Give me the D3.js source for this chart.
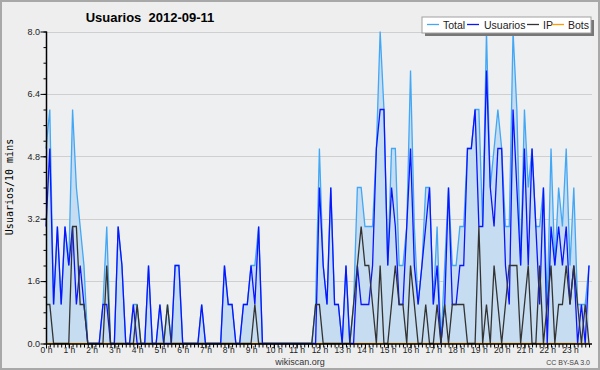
<!DOCTYPE html>
<html>
<head>
<meta charset="utf-8">
<script src="https://cdnjs.cloudflare.com/ajax/libs/d3/7.8.5/d3.min.js"></script>
<style>
html, body { margin: 0; padding: 0; background: #eeeeee; }
svg { display: block; }
</style>
</head>
<body>
<svg id="chart" width="600" height="370"></svg>
<script>
// values per 10 minutes, 00:00 .. 23:50
var usuarios = [3,5,1,3,1,3,2,3,1,2, 1,0,0,0,0,1,1,0,0,3, 2,0,0,1,0,0,0,2,0,0,
                1,0,0,0,2,2,0,0,0,0, 0,1,0,0,0,0,0,2,1,1, 0,0,1,1,2,1,3,0,0,0,
                0,0,0,0,0,0,0,0,0,0, 0,0,4,2,1,4,1,1,0,2, 0,0,2,1,1,1,2,5,6,6,
                2,4,3,1,1,3,5,2,1,2, 3,4,1,2,0,1,4,1,1,2, 2,5,5,6,3,3,7,4,3,5,
                5,2,1,6,4,2,5,2,5,3, 1,4,0,3,2,3,2,3,1,2, 0,1,0,2];
var ip       = [1,1,0,0,0,0,0,3,3,1, 1,0,0,0,0,0,2,0,0,0, 0,0,0,0,1,0,0,0,0,0,
                0,0,1,0,0,0,0,0,0,0, 0,0,0,0,0,0,0,0,0,0, 0,0,0,0,0,1,0,0,0,0,
                0,0,0,0,0,0,0,0,0,0, 0,1,1,0,0,0,0,0,0,0, 0,1,2,3,2,2,1,0,2,0,
                0,1,2,1,1,0,2,1,0,0, 1,0,0,1,0,1,0,1,1,1, 1,0,0,0,3,0,1,0,2,1,
                0,1,2,2,2,0,1,2,0,0, 2,0,1,2,0,1,1,2,1,2, 1,0,1,0];
var total    = [5,6,1,3,1,3,2,6,4,3, 2,0,0,0,0,1,3,0,0,3, 2,0,0,1,1,0,0,2,0,0,
                1,0,1,0,2,2,0,0,0,0, 0,1,0,0,0,0,0,2,1,1, 0,0,1,1,2,2,3,0,0,0,
                0,0,0,0,0,0,0,0,0,0, 0,1,5,2,1,4,1,1,0,2, 0,1,4,4,3,3,3,5,8,6,
                2,5,5,2,2,3,7,3,1,2, 4,4,1,3,0,2,4,2,2,3, 3,5,5,6,6,3,8,4,5,6,
                5,3,3,8,6,2,6,4,5,3, 3,4,1,5,2,4,3,5,2,4, 1,1,1,2];
var bots     = [0,0,0,0,0,0,0,0,0,0, 0,0,0,0,0,0,0,0,0,0, 0,0,0,0,0,0,0,0,0,0,
                0,0,0,0,0,0,0,0,0,0, 0,0,0,0,0,0,0,0,0,0, 0,0,0,0,0,0,0,0,0,0,
                0,0,0,0,0,0,0,0,0,0, 0,0,0,0,0,0,0,0,0,0, 0,0,0,0,0,0,0,0,0,0,
                0,0,0,0,0,0,0,0,0,0, 0,0,0,0,0,0,0,0,0,0, 0,0,0,0,0,0,0,0,0,0,
                0,0,0,0,0,0,0,0,0,0, 0,0,0,0,0,0,0,0,0,0, 0,0,0,0];
var hourLabels = ["0 h","1 h","2 h","3 h","4 h","5 h","6 h","7 h","8 h","9 h","10 h","11 h",
                  "12 h","13 h","14 h","15 h","16 h","17 h","18 h","19 h","20 h","21 h","22 h","23 h"];
var yTicks = [0, 1.6, 3.2, 4.8, 6.4, 8.0];
var seriesNames = ["Total", "Usuarios", "IP", "Bots"];
var seriesColors = ["#42a7f5", "#0a14ff", "#333333", "#ff9c00"];

var svg = d3.select("#chart");
var font = "'Liberation Sans', Arial, sans-serif";

var x = d3.scaleLinear().domain([0, total.length - 1]).range([46, 589]);
var y = d3.scaleLinear().domain([0, 8]).range([343.5, 31.5]);

// frame
svg.append("rect")
    .attr("x", 1).attr("y", 1).attr("width", 598).attr("height", 368)
    .attr("fill", "#eeeeee").attr("stroke", "#a8a8a8").attr("stroke-width", 2);

svg.append("rect")
    .attr("x", 46).attr("y", 31.5).attr("width", 546).attr("height", 312)
    .attr("fill", "#eeeff1");

// grid
svg.append("g").selectAll("line")
    .data(yTicks.filter(d => d > 0))
    .join("line")
    .attr("x1", 46).attr("x2", 592)
    .attr("y1", d => Math.round(y(d)) + 0.5).attr("y2", d => Math.round(y(d)) + 0.5)
    .attr("stroke", "#cfcfcf").attr("stroke-width", 1);

var idx = d3.range(total.length);

svg.append("path")
    .datum(idx)
    .attr("d", d3.area().x(i => x(i)).y0(y(0)).y1(i => y(total[i])))
    .attr("fill", "#c6dcf0");

function drawLine(values, color) {
    svg.append("path")
        .datum(idx)
        .attr("d", d3.line().x(i => x(i)).y(i => y(values[i])))
        .attr("fill", "none")
        .attr("stroke", color)
        .attr("stroke-width", 1.3)
        .attr("stroke-linejoin", "miter");
}
drawLine(bots, seriesColors[3]);
drawLine(total, seriesColors[0]);
drawLine(usuarios, seriesColors[1]);
drawLine(ip, seriesColors[2]);

// y axis
var yAxis = d3.axisLeft(y)
    .tickValues(d3.range(0, 8.01, 0.4))
    .tickSize(3)
    .tickFormat("");
var gy = svg.append("g").attr("transform", "translate(46.5,0)").call(yAxis);
gy.select(".domain").attr("stroke", "#000").attr("stroke-width", 1.5).attr("d", "M0," + y(8) + "V" + y(0));
gy.selectAll(".tick line").attr("stroke", "#000");

var gyMajor = svg.append("g").attr("transform", "translate(46.5,0)")
    .call(d3.axisLeft(y).tickValues(yTicks).tickSize(6).tickFormat(d3.format(".1f")));
gyMajor.select(".domain").remove();
gyMajor.selectAll(".tick line").attr("stroke", "#000");
gyMajor.selectAll(".tick text")
    .attr("x", -6.5).attr("dy", "0.32em")
    .attr("fill", "#222").style("font-family", font).style("font-size", "9px");

// x axis
var gx = svg.append("g").attr("transform", "translate(0,344)")
    .call(d3.axisBottom(x).tickValues(idx).tickSize(3.5).tickFormat(""));
gx.select(".domain").attr("stroke", "#000").attr("stroke-width", 1.5).attr("d", "M46,0H592");
gx.selectAll(".tick line").attr("stroke", "#000");

var gxMajor = svg.append("g").attr("transform", "translate(0,344)")
    .call(d3.axisBottom(x)
        .tickValues(hourLabels.map((d, h) => h * 6))
        .tickSize(4.5)
        .tickFormat((d, h) => hourLabels[h]));
gxMajor.select(".domain").remove();
gxMajor.selectAll(".tick line").attr("stroke", "#000");
gxMajor.selectAll(".tick text")
    .attr("y", 3).attr("dy", "0.71em")
    .attr("fill", "#222").style("font-family", font).style("font-size", "8.5px");

// titles
svg.append("text")
    .attr("x", 150).attr("y", 21.5)
    .attr("text-anchor", "middle")
    .style("font-family", font).style("font-weight", "bold").style("font-size", "13px")
    .style("white-space", "pre")
    .text("Usuarios  2012-09-11");

svg.append("text")
    .attr("transform", "translate(13,187) rotate(-90)")
    .attr("text-anchor", "middle")
    .style("font-family", "'DejaVu Sans Mono', monospace").style("font-size", "10px")
    .text("Usuarios/10 mins");

svg.append("text")
    .attr("x", 300).attr("y", 365)
    .attr("text-anchor", "middle")
    .style("font-family", font).style("font-size", "9px").attr("fill", "#333")
    .text("wikiscan.org");

svg.append("text")
    .attr("x", 590).attr("y", 365)
    .attr("text-anchor", "end")
    .style("font-family", font).style("font-size", "7px").attr("fill", "#444")
    .text("CC BY-SA 3.0");

// legend
var legend = svg.append("g");
legend.append("rect")
    .attr("x", 425).attr("y", 20).attr("width", 169).attr("height", 16)
    .attr("fill", "#777");
legend.append("rect")
    .attr("x", 422).attr("y", 17).attr("width", 169).attr("height", 16)
    .attr("fill", "#ffffff").attr("stroke", "#a0a0a0").attr("stroke-width", 1);

var legendX = [427, 467, 527, 552];
var entries = legend.selectAll("g.entry")
    .data(seriesNames)
    .join("g")
    .attr("class", "entry")
    .attr("transform", (d, i) => "translate(" + legendX[i] + ",0)");
entries.append("line")
    .attr("x1", 0).attr("x2", 12).attr("y1", 24.5).attr("y2", 24.5)
    .attr("stroke", (d, i) => seriesColors[i]).attr("stroke-width", 1.3);
entries.append("text")
    .attr("x", (d, i) => i === 1 ? 17 : 16).attr("y", 28.5)
    .style("font-family", font).style("font-size", "10.5px").attr("fill", "#222")
    .text(d => d);
</script>
</body>
</html>
